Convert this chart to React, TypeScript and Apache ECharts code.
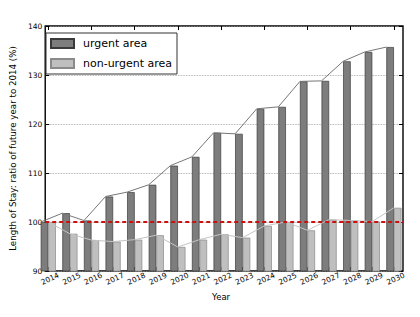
import React, { useEffect, useRef } from "react";
import * as echarts from "echarts";

const years = ["2014","2015","2016","2017","2018","2019","2020","2021","2022","2023","2024","2025","2026","2027","2028","2029","2030"];
const urgent = [100, 101.8, 100.3, 105.2, 106.1, 107.6, 111.5, 113.3, 118.2, 118.0, 123.1, 123.5, 128.7, 128.8, 132.8, 134.7, 135.7];
const nonUrgent = [100, 97.6, 96.3, 96.0, 96.4, 97.3, 94.9, 96.4, 97.5, 96.8, 99.2, 100.0, 98.3, 100.5, 100.3, 100.1, 102.9];
const yTicks = { min: 90, max: 140, interval: 10 };

const FONT = "DejaVu Sans";
const BAR_W = 0.35; // fraction of a band per bar

export default function App() {
  const ref = useRef<HTMLDivElement>(null);
  useEffect(() => {
    if (!ref.current) return;
    const chart = echarts.init(ref.current, null, { renderer: "svg" });
    const urgentLine = urgent.map((v, i) => [i, v]);
    const nonUrgentLine = nonUrgent.map((v, i) => [i + BAR_W, v]);
    chart.setOption({
      animation: false,
      backgroundColor: "#ffffff",
      textStyle: { fontFamily: FONT },
      grid: [
        { left: 40, right: 17, top: 26, bottom: 46, show: true, borderColor: "#000", borderWidth: 1.4, backgroundColor: "transparent" },
        { left: 37.5, right: 15.3, top: 26, bottom: 46 },
      ],
      legend: {
        data: ["urgent area", "non-urgent area"],
        orient: "vertical",
        left: 46,
        top: 33,
        padding: [5, 5, 5, 4],
        itemWidth: 23,
        itemHeight: 9,
        itemGap: 9,
        icon: "rect",
        borderColor: "#333",
        borderWidth: 1,
        backgroundColor: "#fff",
        textStyle: { fontFamily: FONT, fontSize: 11, color: "#000", padding: [0, 0, 0, 4] },
        z: 10,
      },
      xAxis: [
        { gridIndex: 0, type: "value", min: 0, max: 1, show: false },
        {
          gridIndex: 1,
          type: "category",
          data: years,
          position: "bottom",
          name: "Year",
          nameLocation: "middle",
          nameGap: 20,
          nameTextStyle: { fontFamily: FONT, fontSize: 8.5, color: "#000" },
          axisLine: { show: false },
          axisTick: { show: true, inside: true, alignWithLabel: true, length: 4, lineStyle: { color: "#000" } },
          axisLabel: { rotate: 25, fontFamily: FONT, fontSize: 7.5, color: "#000", margin: 4, interval: 0, align: "center", verticalAlign: "top" },
          splitLine: { show: false },
        },
        {
          gridIndex: 1,
          type: "category",
          data: years,
          position: "top",
          axisLine: { show: false },
          axisTick: { show: true, inside: true, alignWithLabel: true, length: 4, lineStyle: { color: "#000" } },
          axisLabel: { show: false },
          splitLine: { show: false },
        },
        { gridIndex: 1, type: "value", min: -0.15, max: 16.85, show: false },
      ],
      yAxis: [
        {
          gridIndex: 0,
          type: "value",
          min: yTicks.min,
          max: yTicks.max,
          interval: yTicks.interval,
          name: "Length of Stay: ratio of future year to 2014 (%)",
          nameLocation: "middle",
          nameGap: 17,
          nameTextStyle: { fontFamily: FONT, fontSize: 8.7, color: "#000" },
          axisLine: { show: false },
          axisTick: { show: true, inside: true, length: 4, lineStyle: { color: "#000" } },
          axisLabel: { fontFamily: FONT, fontSize: 7.5, color: "#000", margin: 3 },
          splitLine: { show: true, lineStyle: { color: "#999", type: "dotted", width: 0.8 } },
        },
        {
          gridIndex: 0,
          type: "value",
          position: "right",
          min: yTicks.min,
          max: yTicks.max,
          interval: yTicks.interval,
          axisLine: { show: false },
          axisTick: { show: true, inside: true, length: 4, lineStyle: { color: "#000" } },
          axisLabel: { show: false },
          splitLine: { show: false },
        },
        { gridIndex: 1, type: "value", min: yTicks.min, max: yTicks.max, show: false },
      ],
      series: [
        {
          name: "urgent area",
          type: "bar",
          xAxisIndex: 1,
          yAxisIndex: 2,
          data: urgent,
          barWidth: "35%",
          barGap: "0%",
          itemStyle: { color: "#7d7d7d", borderColor: "#3a3a3a", borderWidth: 0.7 },
          z: 2,
        },
        {
          name: "non-urgent area",
          type: "bar",
          xAxisIndex: 1,
          yAxisIndex: 2,
          data: nonUrgent,
          barWidth: "35%",
          barGap: "0%",
          itemStyle: { color: "#bfbfbf", borderColor: "#8a8a8a", borderWidth: 0.7 },
          z: 2,
        },
        {
          name: "urgent line",
          type: "line",
          xAxisIndex: 3,
          yAxisIndex: 2,
          data: urgentLine,
          symbol: "none",
          lineStyle: { color: "#777", width: 1 },
          z: 3,
        },
        {
          name: "non-urgent line",
          type: "line",
          xAxisIndex: 3,
          yAxisIndex: 2,
          data: nonUrgentLine,
          symbol: "none",
          lineStyle: { color: "#c4c4c4", width: 1 },
          z: 3,
        },
        {
          name: "baseline",
          type: "line",
          xAxisIndex: 0,
          yAxisIndex: 0,
          data: [],
          markLine: {
            silent: true,
            symbol: "none",
            label: { show: false },
            lineStyle: { color: "#cc1111", type: [4, 3], width: 2 },
            data: [{ yAxis: 100 }],
          },
          z: 5,
        },
      ],
    });
    return () => chart.dispose();
  }, []);
  return <div ref={ref} style={{ position: "absolute", left: 0, top: 0, width: 420, height: 317 }} />;
}
